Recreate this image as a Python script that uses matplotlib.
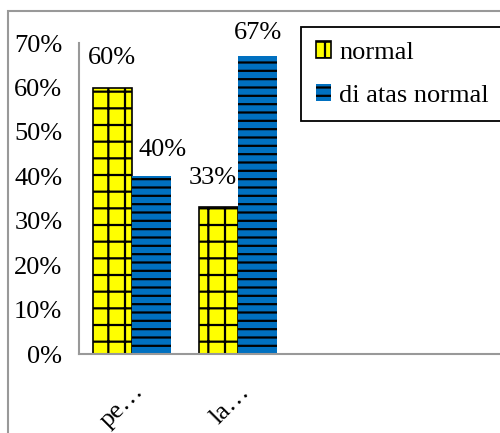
import matplotlib.pyplot as plt
from matplotlib.patches import Rectangle
from matplotlib.ticker import PercentFormatter
import numpy as np

categories = ["pe…", "la…"]
normal = [0.60, 0.33]
di_atas_normal = [0.40, 0.67]
yticks = [0.0, 0.1, 0.2, 0.3, 0.4, 0.5, 0.6, 0.7]

plt.rcParams['font.family'] = ['Liberation Serif', 'DejaVu Serif']
plt.rcParams['hatch.linewidth'] = 1.6

fig = plt.figure(figsize=(5, 4.33), dpi=100)
ax = fig.add_axes([0.158, 0.1824, 0.842, 0.718])

x = np.arange(len(categories))
w = 0.37
b1 = ax.bar(x - w / 2, normal, w, color='#FFFF00', edgecolor='black',
            linewidth=1.2, hatch='+', label='normal')
b2 = ax.bar(x + w / 2, di_atas_normal, w, color='#0070C0', edgecolor='black',
            linewidth=0, hatch='--', label='di atas normal')

# data labels
for bars, vals, offs in [(b1, normal, [(0, 13), (-4, 13)]),
                         (b2, di_atas_normal, [(8, 11), (0, 9)])]:
    for r, v, (dx, dy) in zip(bars, vals, offs):
        ax.annotate(f"{v * 100:.0f}%", (r.get_x() + r.get_width() / 2, v),
                    xytext=(dx, dy), textcoords='offset points',
                    ha='center', va='bottom', fontsize=19)

ax.set_xlim(-0.5, 3.47)
ax.set_ylim(0, 0.7)
ax.set_yticks(yticks)
ax.yaxis.set_major_formatter(PercentFormatter(1.0, decimals=0))
ax.set_xticks(x)
ax.set_xticklabels(categories, rotation=45, ha='right', rotation_mode='anchor')
ax.tick_params(length=0, labelsize=19, pad=12)
ax.tick_params(axis='x', pad=19)
for s in ['top', 'right']:
    ax.spines[s].set_visible(False)
for s in ['left', 'bottom']:
    ax.spines[s].set_color('#999999')
    ax.spines[s].set_linewidth(1.5)

leg = ax.legend(loc='upper left', bbox_to_anchor=(0.602, 0.938),
                bbox_transform=fig.transFigure, fontsize=19, frameon=True,
                fancybox=False, edgecolor='black', framealpha=1,
                handlelength=0.6, handleheight=0.6, handletextpad=0.3,
                labelspacing=0.75, borderpad=0.55, borderaxespad=0)
leg.get_frame().set_linewidth(1.3)

# outer chart border
fig.patches.append(Rectangle((0.016, -0.2), 1.2, 0.9746 + 0.2,
                             transform=fig.transFigure, fill=False,
                             edgecolor='#999999', linewidth=1.5))

fig.savefig('out.png', dpi=100)
